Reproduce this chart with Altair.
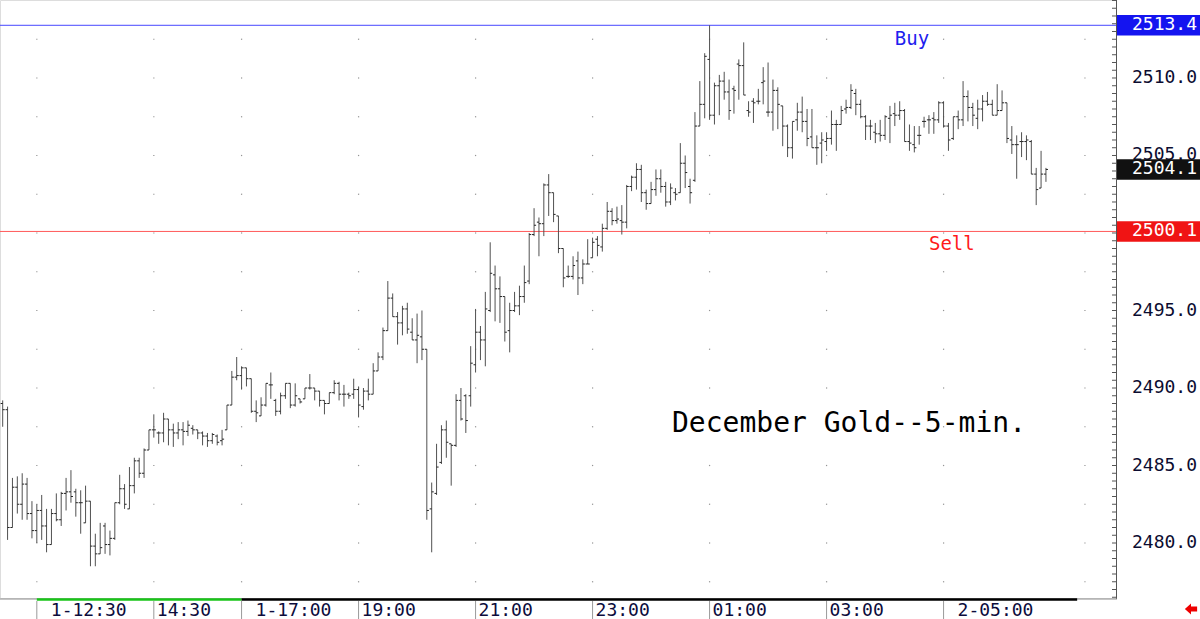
import altair as alt
import pandas as pd

# ---------------- data ----------------
BAR_OPEN = [
    2489.0, 2488.6, 2481.0, 2483.6, 2482.5, 2483.8, 2481.9, 2480.8, 2482.1, 2481.1,
    2479.9, 2481.9, 2481.5, 2483.2, 2483.3, 2483.3, 2482.6, 2481.3, 2482.7, 2479.8,
    2479.3, 2481.1, 2479.9, 2480.3, 2482.6, 2483.5, 2482.2, 2483.7, 2485.3, 2484.5,
    2486.0, 2487.3, 2487.1, 2487.1, 2488.0, 2487.3, 2487.1, 2487.3, 2487.2, 2487.4,
    2487.3, 2487.1, 2486.9, 2486.6, 2486.9, 2486.6, 2487.3, 2488.9, 2490.7, 2490.8,
    2491.3, 2490.6, 2488.5, 2488.2, 2488.9, 2490.2, 2489.2, 2488.5, 2489.5, 2490.3,
    2488.9, 2489.3, 2489.3, 2490.0, 2490.0, 2489.8, 2489.2, 2489.0, 2489.7, 2490.3,
    2489.6, 2489.6, 2489.6, 2489.9, 2488.8, 2489.8, 2489.6, 2491.1, 2492.0, 2493.7,
    2495.8, 2494.6, 2494.2, 2495.1, 2493.6, 2493.1, 2493.3, 2492.5, 2482.2, 2483.2,
    2485.2, 2487.3, 2486.4, 2486.3, 2489.2, 2489.5, 2489.5, 2491.5, 2493.6, 2493.1,
    2495.0, 2497.3, 2496.4, 2495.9, 2493.7, 2495.0, 2495.3, 2495.9, 2496.9, 2499.9,
    2500.7, 2500.6, 2503.1, 2502.6, 2501.1, 2499.0, 2497.2, 2497.2, 2498.2, 2497.1,
    2498.0, 2498.4, 2499.6, 2499.1, 2500.3, 2501.4, 2500.8, 2500.8, 2500.7, 2503.0,
    2503.6, 2504.1, 2502.6, 2501.9, 2502.8, 2503.5, 2503.0, 2502.0, 2502.6, 2502.6,
    2504.5, 2503.0, 2503.4, 2506.9, 2508.3, 2511.2, 2507.6, 2509.5, 2509.8, 2509.1,
    2509.3, 2510.9, 2510.8, 2507.9, 2508.5, 2508.5, 2509.7, 2507.8, 2507.8, 2509.2,
    2508.2, 2506.9, 2505.5, 2507.3, 2507.8, 2507.2, 2506.2, 2505.5, 2505.8, 2505.9,
    2506.1, 2507.0, 2507.0, 2508.0, 2508.1, 2509.0, 2508.3, 2507.5, 2506.9, 2506.5,
    2506.4, 2506.3, 2507.4, 2507.7, 2507.6, 2507.9, 2505.9, 2505.7, 2506.3, 2507.2,
    2507.3, 2507.4, 2507.3, 2508.4, 2506.9, 2506.1, 2507.5, 2507.3, 2508.8, 2508.1,
    2507.4, 2508.0, 2508.5, 2508.3, 2507.6, 2507.9, 2508.4, 2506.0, 2505.7, 2505.9,
    2505.9, 2505.9, 2503.8, 2502.9, 2503.8,
]
BAR_HIGH = [
    2489.2, 2488.8, 2484.2, 2484.3, 2484.5, 2484.2, 2482.7, 2482.5, 2483.1, 2482.2,
    2482.2, 2483.2, 2483.3, 2484.2, 2484.7, 2483.5, 2483.4, 2483.7, 2482.7, 2480.6,
    2481.3, 2481.3, 2480.8, 2482.6, 2484.4, 2483.8, 2484.9, 2485.5, 2485.5, 2486.1,
    2487.3, 2488.3, 2487.2, 2488.4, 2488.0, 2487.7, 2487.8, 2487.8, 2487.9, 2487.6,
    2487.3, 2487.2, 2487.1, 2487.1, 2487.0, 2487.3, 2488.9, 2491.1, 2492.0, 2491.4,
    2491.3, 2490.6, 2489.2, 2489.4, 2490.3, 2491.0, 2489.3, 2489.7, 2490.3, 2490.3,
    2490.3, 2489.3, 2490.0, 2490.9, 2490.0, 2489.8, 2489.2, 2489.7, 2490.5, 2490.4,
    2490.2, 2489.7, 2490.6, 2490.1, 2490.0, 2490.6, 2491.6, 2492.3, 2493.9, 2496.9,
    2496.1, 2494.9, 2495.3, 2495.5, 2494.5, 2494.8, 2495.0, 2492.5, 2483.9, 2486.4,
    2487.6, 2487.9, 2486.4, 2489.6, 2490.0, 2489.6, 2492.7, 2495.1, 2494.0, 2496.2,
    2499.4, 2497.9, 2497.2, 2495.9, 2495.5, 2496.2, 2496.6, 2497.9, 2500.0, 2501.6,
    2501.0, 2503.2, 2503.8, 2502.6, 2501.1, 2499.0, 2497.9, 2498.5, 2498.8, 2498.3,
    2499.6, 2499.7, 2499.8, 2500.6, 2502.0, 2501.6, 2501.7, 2501.8, 2503.1, 2503.7,
    2504.5, 2504.4, 2502.8, 2503.3, 2504.1, 2504.1, 2503.3, 2503.2, 2502.9, 2505.8,
    2505.0, 2503.5, 2507.8, 2509.8, 2511.6, 2513.4, 2509.7, 2510.2, 2510.4, 2509.9,
    2509.5, 2511.2, 2512.3, 2508.5, 2508.7, 2509.3, 2510.7, 2511.0, 2509.9, 2509.4,
    2508.2, 2507.0, 2507.2, 2508.4, 2508.8, 2508.0, 2508.0, 2506.3, 2506.5, 2506.5,
    2507.9, 2507.3, 2508.2, 2508.6, 2509.6, 2509.3, 2508.6, 2507.6, 2507.3, 2507.1,
    2507.3, 2507.6, 2508.2, 2508.4, 2508.5, 2508.0, 2507.0, 2506.9, 2506.9, 2507.5,
    2507.6, 2507.8, 2508.5, 2508.5, 2507.1, 2507.5, 2507.9, 2509.8, 2509.2, 2508.4,
    2508.6, 2508.9, 2509.1, 2508.6, 2509.6, 2509.2, 2508.4, 2506.9, 2506.3, 2506.5,
    2506.3, 2506.0, 2504.2, 2505.3, 2504.2,
]
BAR_LOW = [
    2487.5, 2480.2, 2481.0, 2481.9, 2481.5, 2481.5, 2480.3, 2480.0, 2480.2, 2479.4,
    2479.9, 2481.4, 2481.1, 2482.1, 2482.6, 2481.7, 2480.6, 2481.3, 2478.5, 2478.5,
    2479.3, 2479.3, 2479.2, 2480.2, 2482.5, 2482.2, 2482.2, 2483.2, 2484.2, 2484.2,
    2486.0, 2486.8, 2486.4, 2486.5, 2486.3, 2486.2, 2486.7, 2486.3, 2486.9, 2487.0,
    2486.7, 2486.3, 2486.2, 2486.4, 2486.3, 2486.3, 2487.3, 2488.9, 2490.5, 2489.9,
    2490.1, 2488.4, 2487.8, 2488.2, 2488.8, 2489.3, 2488.2, 2488.3, 2489.3, 2488.7,
    2488.8, 2489.0, 2489.3, 2489.9, 2489.2, 2488.8, 2488.3, 2489.0, 2489.6, 2489.2,
    2488.8, 2489.3, 2489.3, 2488.1, 2488.6, 2489.2, 2489.6, 2491.1, 2491.8, 2493.7,
    2494.6, 2492.8, 2493.4, 2493.5, 2493.1, 2491.6, 2491.8, 2481.5, 2479.4, 2483.1,
    2485.1, 2485.5, 2483.7, 2486.2, 2487.9, 2487.1, 2488.8, 2491.0, 2491.8, 2491.4,
    2494.9, 2494.3, 2494.2, 2493.0, 2492.3, 2494.9, 2494.7, 2495.5, 2496.7, 2499.8,
    2498.5, 2499.8, 2501.1, 2500.7, 2498.7, 2496.5, 2497.1, 2497.0, 2496.0, 2496.7,
    2498.0, 2498.4, 2498.5, 2498.8, 2500.2, 2500.5, 2500.6, 2499.9, 2500.3, 2502.7,
    2502.8, 2502.0, 2501.5, 2501.9, 2502.4, 2502.6, 2501.7, 2501.8, 2502.1, 2502.6,
    2502.9, 2501.9, 2503.3, 2506.9, 2507.4, 2507.3, 2507.0, 2507.6, 2508.6, 2507.3,
    2507.7, 2508.6, 2508.9, 2507.5, 2507.1, 2508.3, 2508.3, 2507.5, 2506.6, 2506.7,
    2505.6, 2504.9, 2504.8, 2506.6, 2506.5, 2505.6, 2505.5, 2504.4, 2504.5, 2505.3,
    2505.7, 2505.3, 2507.0, 2507.7, 2508.0, 2507.6, 2507.4, 2506.0, 2506.0, 2505.8,
    2505.9, 2506.0, 2505.8, 2506.9, 2507.3, 2505.9, 2505.3, 2505.2, 2505.7, 2506.8,
    2506.4, 2506.4, 2507.1, 2506.8, 2505.3, 2506.0, 2506.7, 2506.9, 2507.2, 2506.9,
    2506.7, 2507.2, 2508.2, 2507.6, 2507.6, 2507.9, 2505.8, 2505.1, 2503.5, 2504.9,
    2504.7, 2503.8, 2501.8, 2502.9, 2503.3,
]
BAR_CLOSE = [
    2488.6, 2481.0, 2483.6, 2482.5, 2483.8, 2481.9, 2480.8, 2482.1, 2481.1, 2479.9,
    2481.9, 2481.5, 2483.2, 2483.3, 2483.0, 2482.6, 2482.6, 2482.7, 2479.8, 2479.3,
    2479.7, 2479.9, 2480.3, 2482.6, 2483.5, 2482.5, 2483.7, 2485.3, 2484.5, 2486.0,
    2487.3, 2487.3, 2487.1, 2488.0, 2487.3, 2487.1, 2487.3, 2487.2, 2487.6, 2487.3,
    2487.1, 2486.9, 2486.6, 2487.0, 2486.5, 2486.7, 2488.9, 2490.7, 2490.8, 2491.3,
    2490.6, 2488.5, 2488.4, 2488.9, 2490.3, 2490.2, 2488.5, 2489.5, 2490.3, 2488.9,
    2489.5, 2489.1, 2490.0, 2490.0, 2489.8, 2489.2, 2489.0, 2489.7, 2490.3, 2489.6,
    2489.6, 2489.5, 2489.9, 2488.9, 2489.8, 2489.6, 2491.1, 2492.0, 2493.7, 2495.8,
    2494.6, 2494.2, 2495.1, 2493.8, 2493.1, 2493.4, 2492.5, 2482.1, 2483.3, 2484.9,
    2487.3, 2486.5, 2486.3, 2489.2, 2488.0, 2487.9, 2491.6, 2493.6, 2493.1, 2495.1,
    2497.4, 2496.4, 2495.9, 2493.6, 2495.0, 2495.3, 2495.9, 2496.8, 2499.9, 2500.5,
    2500.6, 2503.1, 2502.6, 2501.2, 2499.0, 2497.1, 2497.2, 2497.9, 2497.1, 2498.0,
    2498.0, 2499.4, 2499.2, 2500.3, 2501.4, 2500.8, 2500.9, 2500.7, 2503.0, 2503.6,
    2504.1, 2502.6, 2501.9, 2502.8, 2503.5, 2503.0, 2502.0, 2502.9, 2502.5, 2504.5,
    2503.9, 2502.6, 2506.9, 2508.3, 2511.4, 2507.6, 2509.5, 2509.8, 2509.1, 2507.9,
    2509.2, 2510.8, 2508.9, 2507.8, 2508.4, 2508.5, 2509.8, 2507.8, 2509.2, 2508.3,
    2506.9, 2505.5, 2507.2, 2507.8, 2507.2, 2506.1, 2505.5, 2505.5, 2506.0, 2506.1,
    2507.0, 2507.0, 2507.9, 2508.1, 2509.2, 2508.3, 2507.5, 2506.9, 2506.9, 2506.4,
    2506.3, 2507.5, 2507.6, 2507.6, 2507.9, 2505.9, 2505.8, 2505.5, 2506.3, 2507.2,
    2507.3, 2507.3, 2508.4, 2506.9, 2506.0, 2507.5, 2507.3, 2508.8, 2508.1, 2507.6,
    2508.0, 2508.5, 2508.3, 2507.6, 2507.9, 2508.4, 2506.1, 2505.7, 2505.7, 2505.9,
    2506.0, 2503.8, 2502.8, 2503.8, 2504.1,
]

TIME_LABELS = ["1-12:30", "14:30", "1-17:00", "19:00", "21:00", "23:00", "01:00", "03:00", "2-05:00"]
TIME_BARS = [8, 32, 50, 74, 98, 122, 146, 170, 194]
GRID_BARS = [8, 32, 50, 74, 98, 122, 146, 170, 194, 223]
GRID_PRICES = [2477.5, 2480.0, 2482.5, 2485.0, 2487.5, 2490.0, 2492.5, 2495.0,
               2497.5, 2500.0, 2502.5, 2505.0, 2507.5, 2510.0, 2512.5]
AXIS_LABEL_PRICES = [2480.0, 2485.0, 2490.0, 2495.0, 2500.0, 2505.0, 2510.0]
AXIS_TICK_PRICES = [2476.5 + 0.5 * k for k in range(78)]
DAY_SESSION = [8, 50]        # bar index range of the green (day) session strip
NIGHT_SESSION = [50, 221.4]  # bar index range of the black (night) session strip
BUY_LEVEL = 2513.4
SELL_LEVEL = 2500.1
LAST_PRICE = 2504.1
TITLE = "December Gold--5-min."

# ---------------- layout ----------------
W, H = 1116, 598
MONO = "DejaVu Sans Mono"
xs = alt.Scale(domain=[0.446, 229.37], nice=False, zero=False)
ys = alt.Scale(domain=[2476.452, 2515.032], nice=False, zero=False)

bars = pd.DataFrame({
    "bar": list(range(1, len(BAR_OPEN) + 1)),
    "open": BAR_OPEN, "high": BAR_HIGH, "low": BAR_LOW, "close": BAR_CLOSE,
})
base = alt.Chart(bars)

hl = base.mark_rule(color="#505050", strokeWidth=1).encode(
    x=alt.X("bar:Q", scale=xs, axis=None),
    y=alt.Y("low:Q", scale=ys, axis=None),
    y2="high:Q",
)
opn = base.transform_calculate(xa="datum.bar - 0.42").mark_rule(
    color="#222222", strokeWidth=1).encode(
    x=alt.X("xa:Q", scale=xs, axis=None), x2="bar:Q",
    y=alt.Y("open:Q", scale=ys, axis=None),
)
cls = base.transform_calculate(xb="datum.bar + 0.42").mark_rule(
    color="#222222", strokeWidth=1).encode(
    x=alt.X("bar:Q", scale=xs, axis=None), x2="xb:Q",
    y=alt.Y("close:Q", scale=ys, axis=None),
)

# grid dots
grid_df = pd.DataFrame([{"bar": b, "price": p} for b in GRID_BARS for p in GRID_PRICES])
grid = alt.Chart(grid_df).mark_square(size=1.5, color="#8a8a8a", opacity=0.9).encode(
    x=alt.X("bar:Q", scale=xs, axis=None), y=alt.Y("price:Q", scale=ys, axis=None))

# buy / sell lines
def level_df(p):
    return alt.Chart(pd.DataFrame({"price": [p]}))

buy_line = level_df(BUY_LEVEL).mark_rule(color="#4747ff", strokeWidth=1).encode(
    y=alt.Y("price:Q", scale=ys, axis=None), x=alt.value(0), x2=alt.value(W))
sell_line = level_df(SELL_LEVEL).mark_rule(color="#ff5a5a", strokeWidth=1).encode(
    y=alt.Y("price:Q", scale=ys, axis=None), x=alt.value(0), x2=alt.value(W))

buy_txt = alt.Chart(pd.DataFrame({"price": [BUY_LEVEL], "bar": [184], "t": ["Buy"]})).mark_text(
    font=MONO, fontSize=19, color="#2020ee", align="left", baseline="alphabetic", dy=20).encode(
    x=alt.X("bar:Q", scale=xs, axis=None), y=alt.Y("price:Q", scale=ys, axis=None), text="t:N")
sell_txt = alt.Chart(pd.DataFrame({"price": [SELL_LEVEL], "bar": [191], "t": ["Sell"]})).mark_text(
    font=MONO, fontSize=19, color="#ff1a1a", align="left", baseline="alphabetic", dy=19).encode(
    x=alt.X("bar:Q", scale=xs, axis=None), y=alt.Y("price:Q", scale=ys, axis=None), text="t:N")

title = alt.Chart(pd.DataFrame({"t": [TITLE]})).mark_text(
    font=MONO, fontSize=28, color="#000000", align="left", baseline="alphabetic").encode(
    x=alt.value(672), y=alt.value(432), text="t:N")

# right axis
axis_line = alt.Chart(pd.DataFrame({"a": [0]})).mark_rule(color="#555555").encode(
    x=alt.value(W + 0.5), y=alt.value(0), y2=alt.value(H + 1))
ticks = alt.Chart(pd.DataFrame({"price": AXIS_TICK_PRICES})).mark_rule(color="#555555").encode(
    y=alt.Y("price:Q", scale=ys, axis=None), x=alt.value(W - 4), x2=alt.value(W))
labels = alt.Chart(pd.DataFrame({"price": AXIS_LABEL_PRICES})).transform_calculate(
    t="format(datum.price, '.1f')").mark_text(
    font=MONO, fontSize=18, color="#0c0c30", align="right", baseline="middle").encode(
    x=alt.value(1197), y=alt.Y("price:Q", scale=ys, axis=None), text="t:N")

def price_box(p, fill):
    d = alt.Chart(pd.DataFrame({"price": [p]}))
    rect = d.transform_calculate(lo="datum.price - 0.66", hi="datum.price + 0.66").mark_rect(
        color=fill).encode(
        x=alt.value(W + 1), x2=alt.value(1200),
        y=alt.Y("lo:Q", scale=ys, axis=None), y2="hi:Q")
    txt = d.transform_calculate(t="format(datum.price, '.1f')").mark_text(
        font=MONO, fontSize=18, color="white", align="right", baseline="middle").encode(
        x=alt.value(1197), y=alt.Y("price:Q", scale=ys, axis=None), text="t:N")
    return [rect, txt]

boxes = (price_box(BUY_LEVEL, "#1414f0") + price_box(LAST_PRICE, "#111111")
         + price_box(SELL_LEVEL, "#f01414"))

# bottom time axis
bottom_line = alt.Chart(pd.DataFrame({"a": [0]})).mark_rule(color="#8c8c8c").encode(
    x=alt.value(0), x2=alt.value(W + 1), y=alt.value(H + 1))

def session(rng, col):
    return alt.Chart(pd.DataFrame({"b0": [rng[0]], "b1": [rng[1]]})).mark_rule(
        strokeWidth=2.5, color=col).encode(
        x=alt.X("b0:Q", scale=xs, axis=None), x2="b1:Q", y=alt.value(H + 1.5))

day_strip = session(DAY_SESSION, "#18c418")
night_strip = session(NIGHT_SESSION, "#000000")

tl_df = pd.DataFrame({"label": TIME_LABELS, "bar": TIME_BARS})
seps = alt.Chart(tl_df).mark_rule(color="#9a9a9a").encode(
    x=alt.X("bar:Q", scale=xs, axis=None), y=alt.value(H + 3), y2=alt.value(619))
tl_plain = alt.Chart(tl_df).transform_filter("indexof(datum.label, '-') < 0").mark_text(
    font=MONO, fontSize=18, color="#0c0c3c", align="left", baseline="alphabetic", dx=3).encode(
    x=alt.X("bar:Q", scale=xs, axis=None), y=alt.value(616), text="label:N")
tl_date = alt.Chart(tl_df).transform_filter("indexof(datum.label, '-') >= 0").mark_text(
    font=MONO, fontSize=18, color="#0c0c3c", align="left", baseline="alphabetic", dx=14).encode(
    x=alt.X("bar:Q", scale=xs, axis=None), y=alt.value(616), text="label:N")

arrow = alt.Chart(pd.DataFrame({"a": [0]})).mark_point(
    shape="M -1 0 L 0 -0.9 L 0 -0.4 L 1 -0.4 L 1 0.4 L 0 0.4 L 0 0.9 Z",
    filled=True, color="#ee0000", opacity=1, size=150).encode(
    x=alt.value(1191), y=alt.value(609))

chart = alt.layer(
    grid, buy_line, sell_line, hl, opn, cls, buy_txt, sell_txt, title,
    labels, axis_line, ticks, *boxes,
    bottom_line, day_strip, night_strip, seps, tl_plain, tl_date, arrow,
).properties(
    width=W, height=H,
    padding={"left": 0, "top": 0, "right": 84, "bottom": 21},
    autosize="none",
).configure_view(stroke=None).configure(background="white")

chart.save("out.html", embed_options={"renderer": "svg", "actions": False})
